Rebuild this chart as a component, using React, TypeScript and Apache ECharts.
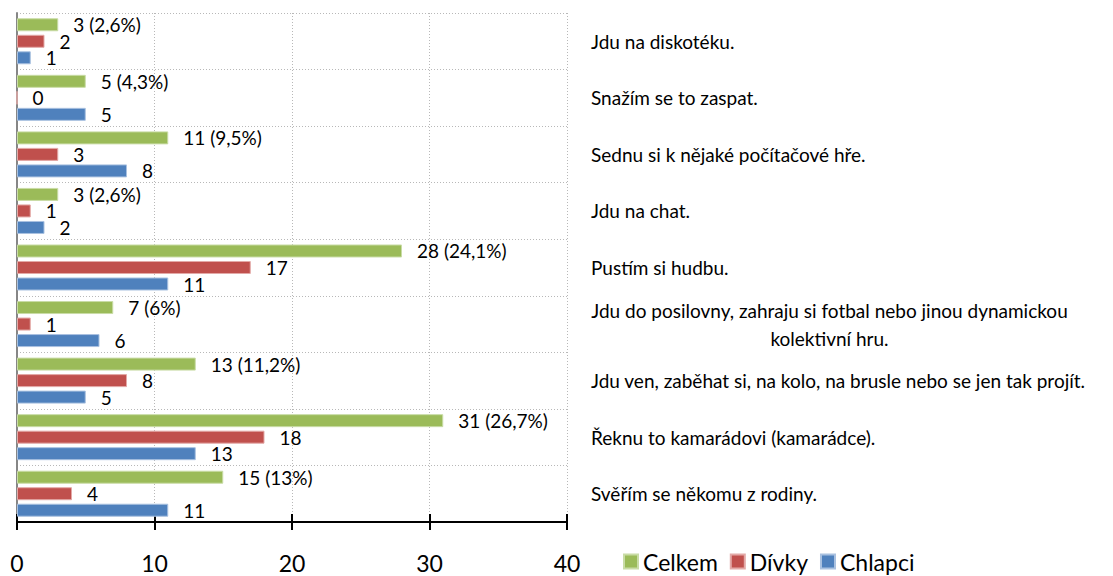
import React, { useEffect, useRef } from "react";
import * as echarts from "echarts";

const categories = [
  "Svěřím se někomu z rodiny.",
  "Řeknu to kamarádovi (kamarádce).",
  "Jdu ven, zaběhat si, na kolo, na brusle nebo se jen tak projít.",
  "Jdu do posilovny, zahraju si fotbal nebo jinou dynamickou\nkolektivní hru.",
  "Pustím si hudbu.",
  "Jdu na chat.",
  "Sednu si k nějaké počítačové hře.",
  "Snažím se to zaspat.",
  "Jdu na diskotéku.",
];
const celkem = [15, 31, 13, 7, 28, 3, 11, 5, 3];
const celkemPct = ["13%", "26,7%", "11,2%", "6%", "24,1%", "2,6%", "9,5%", "4,3%", "2,6%"];
const divky = [4, 18, 8, 1, 17, 1, 3, 0, 2];
const chlapci = [11, 13, 5, 6, 11, 2, 8, 5, 1];
const xTicks = [0, 10, 20, 30, 40];

const FONT = "Lato";
const CAT_SIZE = 19;
const LBL_SIZE = 19;
const BIG_SIZE = 23;

function measure(text: string, size: number) {
  const c = document.createElement("canvas").getContext("2d")!;
  c.font = `${size}px ${FONT}`;
  return c.measureText(text).width;
}

export default function App() {
  const ref = useRef<HTMLDivElement>(null);
  useEffect(() => {
    const chart = echarts.init(ref.current!, null, { renderer: "svg" });
    const barLabel = {
      show: true,
      position: "right",
      distance: 15,
      color: "#000",
      fontFamily: FONT,
      fontSize: LBL_SIZE,
    };
    const wrapW = Math.ceil(
      Math.max(
        ...categories
          .filter((c) => c.indexOf("\n") >= 0)
          .flatMap((c) => c.split("\n"))
          .map((l) => measure(l, CAT_SIZE))
      )
    );
    chart.setOption({
      animation: false,
      textStyle: { fontFamily: FONT },
      grid: { left: 17, right: 546, top: 13, bottom: 54, containLabel: false },
      legend: {
        data: ["Celkem", "Dívky", "Chlapci"],
        left: 623,
        top: 550,
        padding: 0,
        icon: "rect",
        itemWidth: 14,
        itemHeight: 14,
        itemGap: 12,
        textStyle: { fontSize: BIG_SIZE, color: "#000", fontFamily: FONT },
      },
      xAxis: [
        {
          type: "value",
          min: xTicks[0],
          max: xTicks[xTicks.length - 1],
          interval: 10,
          position: "bottom",
          axisLine: { show: true, lineStyle: { color: "#000", width: 2 } },
          axisTick: { show: true, length: 8, lineStyle: { color: "#000", width: 2 } },
          axisLabel: { fontSize: BIG_SIZE, color: "#000", margin: 29, fontFamily: FONT },
          splitLine: { show: true, lineStyle: { color: "#b8b8b8", type: [1, 2], width: 1 } },
        },
        {
          type: "value",
          min: xTicks[0],
          max: xTicks[xTicks.length - 1],
          interval: 10,
          position: "bottom",
          axisLine: { show: false },
          axisTick: { show: true, inside: true, length: 8, lineStyle: { color: "#000", width: 2 } },
          axisLabel: { show: false },
          splitLine: { show: false },
        },
      ],
      yAxis: {
        type: "category",
        data: categories,
        position: "left",
        axisLine: { show: true, lineStyle: { color: "#868686", width: 2 } },
        axisTick: { show: false },
        splitLine: { show: true, lineStyle: { color: "#b8b8b8", type: [1, 2], width: 1 } },
        axisLabel: {
          inside: true,
          margin: 574,
          align: "left",
          color: "#000",
          fontSize: CAT_SIZE,
          fontFamily: FONT,
          lineHeight: 28,
          formatter: (v: string) => {
            if (v.indexOf("\n") < 0) return v;
            return v
              .split("\n")
              .map((l) => `{c|${l}}`)
              .join("\n");
          },
          rich: {
            c: {
              width: wrapW,
              align: "center",
              fontSize: CAT_SIZE,
              fontFamily: FONT,
              color: "#000",
              lineHeight: 28,
            },
          },
        },
      },
      series: [
        {
          name: "Celkem",
          type: "bar",
          data: celkem,
          barWidth: 13,
          barGap: "27%",
          itemStyle: { color: "#9BBB59", borderColor: "#c9dca6", borderWidth: 1 },
          label: {
            ...barLabel,
            formatter: (p: any) => `${p.value} (${celkemPct[p.dataIndex]})`,
          },
        },
        {
          name: "Dívky",
          type: "bar",
          data: divky,
          barWidth: 13,
          barGap: "27%",
          itemStyle: { color: "#C0504D", borderColor: "#e3a9a7", borderWidth: 1 },
          label: barLabel,
        },
        {
          name: "Chlapci",
          type: "bar",
          data: chlapci,
          barWidth: 13,
          barGap: "27%",
          itemStyle: { color: "#4F81BD", borderColor: "#a9c1e0", borderWidth: 1 },
          label: barLabel,
        },
      ],
    });
    return () => chart.dispose();
  }, []);
  return (
    <div
      ref={ref}
      style={{ position: "fixed", left: 0, top: 0, width: 1113, height: 576, background: "#fff" }}
    />
  );
}
